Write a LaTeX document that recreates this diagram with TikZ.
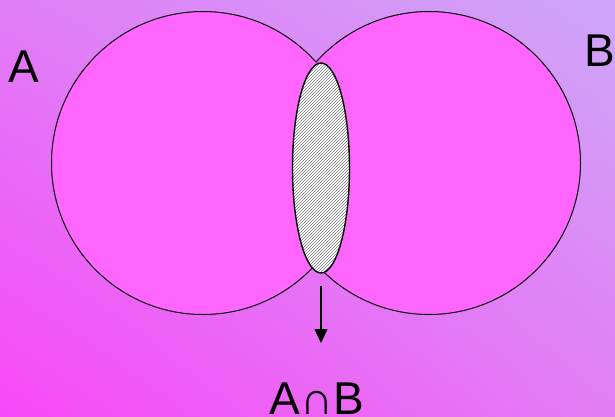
\documentclass[tikz,border=0pt]{standalone}
\usepackage{fontspec}
\setmainfont{Liberation Sans}
\usetikzlibrary{shapes,arrows.meta,patterns,shadings,positioning}

\definecolor{setpink}{HTML}{FF66FF}
\definecolor{bgul}{HTML}{E07EF6}
\definecolor{bgur}{HTML}{CEA6F8}
\definecolor{bgll}{HTML}{F848F8}
\definecolor{bglr}{HTML}{E27EF4}

\begin{document}
\begin{tikzpicture}[x=1pt,y=-1pt,
  set/.style={circle,draw,fill=setpink,line width=1pt,minimum size=303pt,inner sep=0pt},
  lab/.style={font=\fontsize{46}{50}\selectfont,inner sep=0pt},
  arr/.style={-{Triangle[length=14pt,width=13pt]},line width=1.4pt}]
\shade[upper left=bgul,upper right=bgur,lower left=bgll,lower right=bglr] (0,0) rectangle (615,416);
\useasboundingbox (0,0) rectangle (615,416);
\node[set] (A) at (203,163) {};
\node[set] (B) at (429,163) {};
% hide the inner arcs
\begin{scope}
  \clip (A.center) circle (151pt);
  \filldraw[setpink,line width=3pt] (B.center) circle (151.5pt);
\end{scope}
\node[ellipse,draw,line width=1.4pt,minimum width=57pt,minimum height=210pt,inner sep=0pt,
  preaction={fill=white},pattern=north east lines,pattern color=gray] (AB) at (321,168) {};
\node[lab,anchor=base west] (la) at (8,82) {A};
\node[lab,anchor=base west] (lb) at (584,66) {B};
\node[lab,anchor=base] (lab) at (317,414) {A∩B};
\coordinate (tip) at (321,343);
\draw[arr,shorten <=12pt] (AB.south) -- (tip);
\end{tikzpicture}
\end{document}
